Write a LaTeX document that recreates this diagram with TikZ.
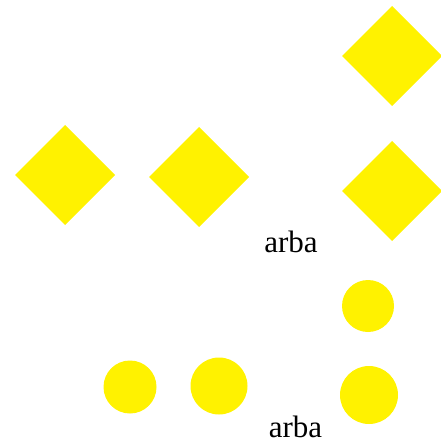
\documentclass[tikz,border=0pt]{standalone}
\usepackage{fontspec}
\setmainfont{Liberation Serif}
\usepackage{tikz}
\usetikzlibrary{shapes.geometric}
\definecolor{signyellow}{RGB}{255,242,0}

\begin{document}
\begin{tikzpicture}[x=1pt, y=-1pt, every node/.style={inner sep=0pt, outer sep=0pt},
    sign/.style={diamond, fill=signyellow, minimum width=100pt, minimum height=100pt},
    dot/.style={circle, fill=signyellow},
    word/.style={anchor=base, font=\fontsize{31}{31}\selectfont}]
  \useasboundingbox (0,0) rectangle (440,446);
  % diamonds
  \node[sign] (d1) at (65,175) {};
  \node[sign] (d2) at (199,177) {};
  \node[sign] (d3) at (392,56) {};
  \node[sign] (d4) at (392,191) {};
  \node[word] (t1) at (291,252) {arba};
  % circles
  \node[dot, minimum size=53pt] (c1) at (130,387) {};
  \node[dot, minimum size=57pt] (c2) at (219,386) {};
  \node[dot, minimum size=52pt] (c3) at (368,306) {};
  \node[dot, minimum size=58pt] (c4) at (369,395) {};
  \node[word] (t2) at (295.5,437) {arba};
\end{tikzpicture}
\end{document}
